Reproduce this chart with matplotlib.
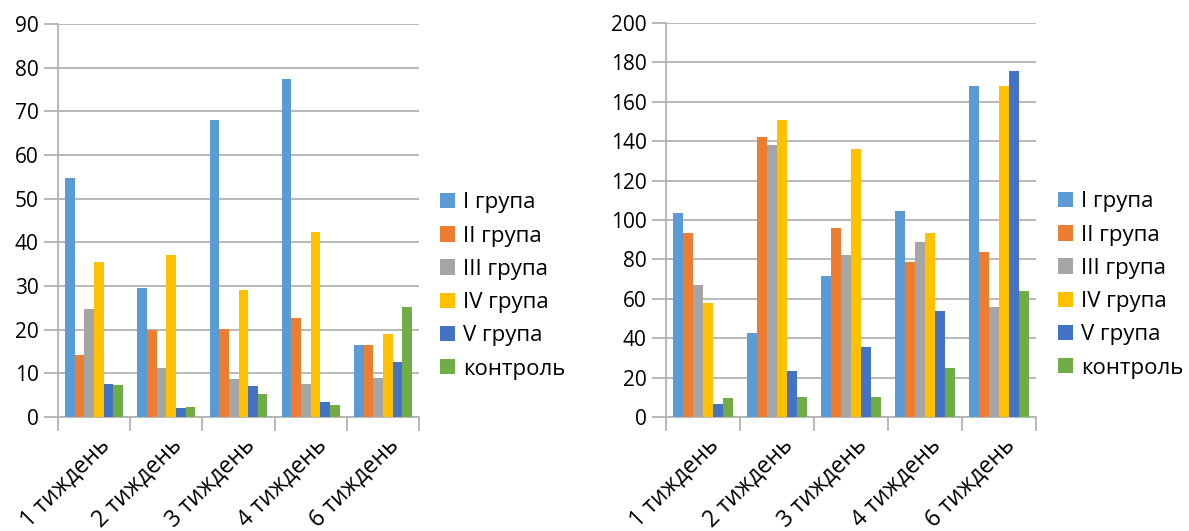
import matplotlib
matplotlib.use("Agg")
import matplotlib.pyplot as plt
import numpy as np

plt.rcParams['font.family'] = ['Open Sans', 'DejaVu Sans']

categories = ["1 тиждень", "2 тиждень", "3 тиждень", "4 тиждень", "6 тиждень"]
series_names = ["I група", "II група", "III група", "IV група", "V група", "контроль"]
colors = ["#5B9BD5", "#ED7D31", "#A5A5A5", "#FFC000", "#4472C4", "#70AD47"]

left_I = [54.7, 29.5, 68.0, 77.4, 16.4]
left_II = [14.1, 20.0, 20.1, 22.6, 16.4]
left_III = [24.7, 11.2, 8.6, 7.5, 8.9]
left_IV = [35.6, 37.1, 29.1, 42.4, 19.0]
left_V = [7.6, 2.0, 7.0, 3.4, 12.5]
left_ctrl = [7.4, 2.4, 5.2, 2.7, 25.2]

right_I = [103.6, 42.5, 71.5, 104.6, 168.1]
right_II = [93.4, 142.2, 95.9, 78.6, 83.7]
right_III = [66.9, 138.1, 82.2, 88.8, 55.8]
right_IV = [57.8, 150.8, 136.1, 93.4, 168.1]
right_V = [6.4, 23.2, 35.4, 53.7, 175.8]
right_ctrl = [9.5, 10.0, 10.0, 24.7, 63.9]

left_data = [left_I, left_II, left_III, left_IV, left_V, left_ctrl]
right_data = [right_I, right_II, right_III, right_IV, right_V, right_ctrl]

fig = plt.figure(figsize=(11.89, 5.31), dpi=100)
W, H = 1189, 531
ax1 = fig.add_axes([58/W, 1-417/H, (419-58)/W, (417-24)/H])
ax2 = fig.add_axes([666/W, 1-417/H, (1036-666)/W, (417-23)/H])

grid_c = "#B3B3B3"

def draw(ax, data, ymax, step, legend_x, legend_y, label_shift):
    n = len(categories)
    x = np.arange(n)
    bw = 0.8 / len(data)
    for i, (vals, c, name) in enumerate(zip(data, colors, series_names)):
        ax.bar(x - 0.4 + bw * (i + 0.5), vals, width=bw, color=c, label=name, zorder=3)
    ax.set_xlim(-0.5, n - 0.5)
    ax.set_ylim(0, ymax)
    ax.set_yticks(np.arange(0, ymax + 1, step))
    ax.yaxis.grid(True, color=grid_c, linewidth=1.3, zorder=0)
    ax.set_axisbelow(True)
    for s in ["top", "right"]:
        ax.spines[s].set_visible(False)
    ax.spines["left"].set_color(grid_c)
    ax.spines["bottom"].set_color(grid_c)
    ax.spines["left"].set_linewidth(1.3)
    ax.spines["bottom"].set_linewidth(1.3)
    ax.set_xticks(np.arange(-0.5, n, 1.0))
    ax.set_xticklabels([])
    ax.set_xticks(x - label_shift, minor=True)
    ax.set_xticklabels(categories, minor=True, rotation=45, ha="right", va="top",
                       rotation_mode="anchor", fontsize=16.5)
    ax.tick_params(axis="x", which="major", length=10, color=grid_c, width=1.3)
    ax.tick_params(axis="x", which="minor", length=0, pad=12)
    ax.tick_params(axis="y", length=10, color=grid_c, width=1.3, labelsize=15, pad=4)
    ax.legend(loc="center left", bbox_to_anchor=(legend_x, legend_y), frameon=False,
              fontsize=16, handlelength=0.68, handleheight=0.68, handletextpad=0.36,
              labelspacing=0.55, borderaxespad=0, borderpad=0)

draw(ax1, left_data, 90, 10, (440-58)/361, (417-286)/393, -4/72.2)
draw(ax2, right_data, 200, 20, (1058-666)/370, (417-285)/394, -4/74)

fig.savefig("out.png", dpi=100)
